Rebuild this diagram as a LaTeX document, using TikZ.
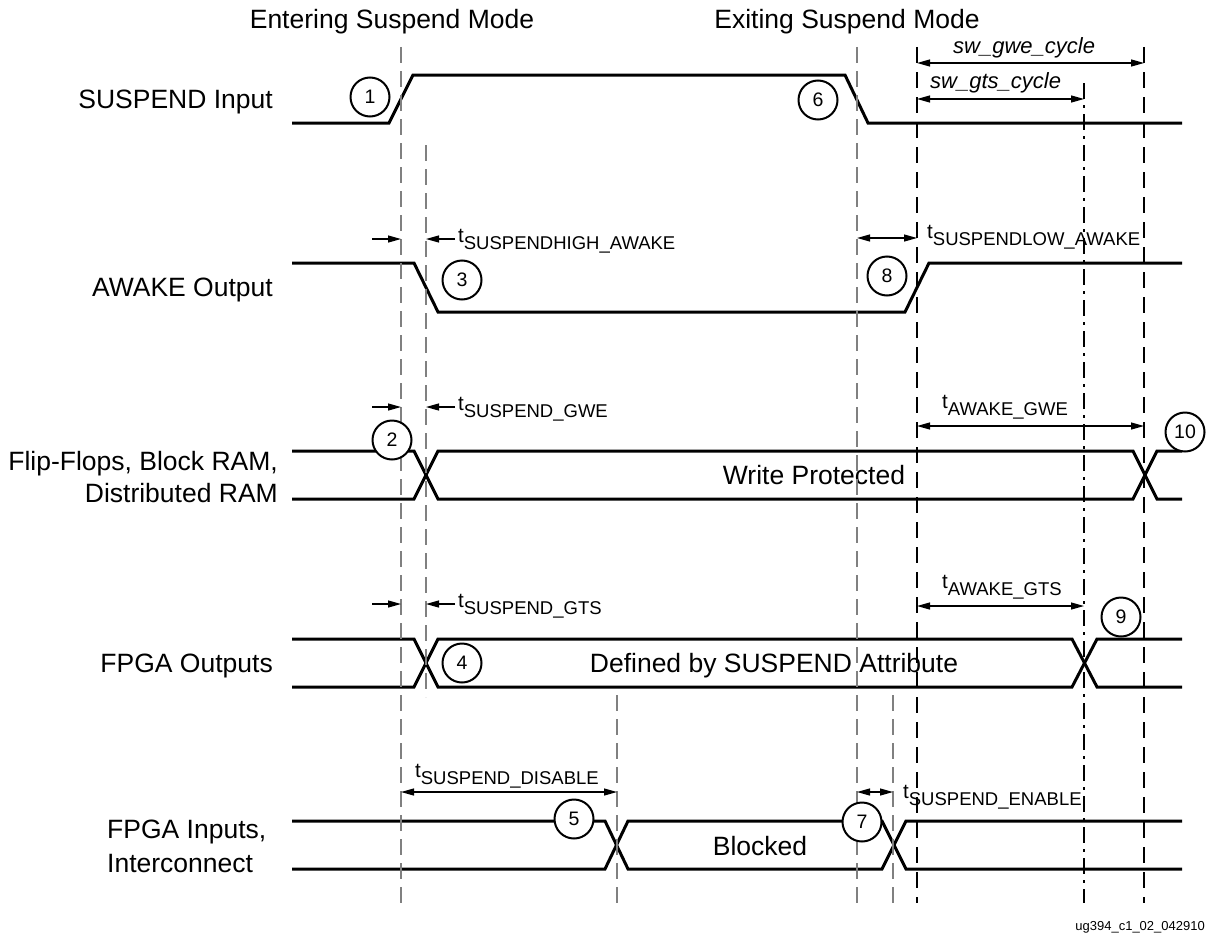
\documentclass[tikz,border=0pt]{standalone}
\usepackage{fontspec}
\setmainfont{Liberation Sans}
\usetikzlibrary{arrows.meta}
\newcommand{\tlab}[1]{{\fontsize{20.5}{20.5}\selectfont t}\raisebox{-7pt}{\fontsize{18.5}{18.5}\selectfont #1}}
\begin{document}
\begin{tikzpicture}[x=1pt,y=-1pt,
  sig/.style={line width=3pt, line join=miter},
  gdash/.style={draw=black!50, line width=2pt, dash pattern=on 16pt off 8pt},
  kdash/.style={draw=black, line width=1.1pt, dash pattern=on 16pt off 9pt},
  kdashdot/.style={draw=black, line width=1.1pt, dash pattern=on 16pt off 6pt on 3pt off 6pt},
  dim/.style={line width=1.2pt, {Triangle[length=13pt,width=7pt]}-{Triangle[length=13pt,width=7pt]}},
  tip/.style={line width=1.2pt, -{Triangle[length=13pt,width=7pt]}},
  num/.style={circle, draw, line width=2pt, fill=white, minimum size=39pt, inner sep=0pt, font=\fontsize{19.5}{19.5}\selectfont},
  big/.style={font=\fontsize{26.5}{30}\selectfont, inner sep=0pt},
  lab/.style={inner sep=0pt, anchor=base west},
  ital/.style={inner sep=0pt, anchor=base west, font=\fontsize{22}{22}\selectfont\itshape}
]
\useasboundingbox (0,0) rectangle (1206,934);

% headings
\node[big, anchor=base] (h1) at (392,29) {Entering Suspend Mode};
\node[big, anchor=base] (h2) at (847,29) {Exiting Suspend Mode};

% signal names
\node[big, anchor=base east] (nA) at (273,108) {SUSPEND Input};
\node[big, anchor=base east] (nB) at (273,296) {AWAKE Output};
\node[big, anchor=base east] (nC1) at (278,470) {Flip-Flops, Block RAM,};
\node[big, anchor=base east] (nC2) at (278,502) {Distributed RAM};
\node[big, anchor=base east] (nD) at (273,672) {FPGA Outputs};
\node[big, anchor=base west] (nE1) at (107,838) {FPGA Inputs,};
\node[big, anchor=base west] (nE2) at (107,872) {Interconnect};

% waveforms
\draw[sig] (292,123) -- (389,123) -- (413,75) -- (845,75) -- (868,123) -- (1182,123);
\draw[sig] (292,263) -- (414,263) -- (438,312) -- (905,312) -- (929,263) -- (1182,263);
\draw[sig] (292,451) -- (414,451) -- (438,499) -- (1133,499) -- (1157,451) -- (1182,451);
\draw[sig] (292,499) -- (414,499) -- (438,451) -- (1133,451) -- (1157,499) -- (1182,499);
\draw[sig] (292,639) -- (414,639) -- (438,687) -- (1072,687) -- (1097,639) -- (1182,639);
\draw[sig] (292,687) -- (414,687) -- (438,639) -- (1072,639) -- (1097,687) -- (1182,687);
\draw[sig] (292,821) -- (605,821) -- (628,869) -- (882,869) -- (906,821) -- (1182,821);
\draw[sig] (292,869) -- (605,869) -- (628,821) -- (882,821) -- (906,869) -- (1182,869);

% bus texts
\node[big, anchor=base] (wp) at (814,484) {Write Protected};
\node[big, anchor=base] (db) at (774,672) {Defined by SUSPEND Attribute};
\node[big, anchor=base] (bl) at (760,855) {Blocked};

% vertical reference lines
\coordinate (v1t) at (401,47);  \coordinate (v1b) at (401,903);
\coordinate (v2t) at (426,145); \coordinate (v2b) at (426,697);
\coordinate (v3t) at (617,695); \coordinate (v3b) at (617,903);
\coordinate (v4t) at (857,47);  \coordinate (v4b) at (857,903);
\coordinate (v5t) at (893,695); \coordinate (v5b) at (893,903);
\coordinate (v6t) at (917,47);  \coordinate (v6b) at (917,903);
\coordinate (v7t) at (1084,83); \coordinate (v7b) at (1084,903);
\coordinate (v8t) at (1144,47); \coordinate (v8b) at (1144,903);
\draw[gdash] (v1t) -- (v1b);
\draw[gdash] (v2t) -- (v2b);
\draw[gdash] (v3t) -- (v3b);
\draw[gdash] (v4t) -- (v4b);
\draw[gdash] (v5t) -- (v5b);
\draw[kdash] (v6t) -- (v6b);
\draw[kdashdot] (v7t) -- (v7b);
\draw[kdash] (v8t) -- (v8b);

% numbered circles
\node[num] (c1) at (370,97) {1};
\node[num] (c6) at (818,100) {6};
\node[num] (c3) at (462,280) {3};
\node[num] (c8) at (887,276) {8};
\node[num] (c2) at (392,440) {2};
\node[num] (c10) at (1185,432) {10};
\node[num] (c4) at (462,663) {4};
\node[num] (c9) at (1121,617) {9};
\node[num] (c5) at (574,819) {5};
\node[num] (c7) at (862,822) {7};

% dimension arrows
\coordinate (a1l) at (917,63);  \coordinate (a1r) at (1144,63);
\coordinate (a2l) at (917,99);  \coordinate (a2r) at (1084,99);
\draw[dim] (a1l) -- (a1r);
\draw[dim] (a2l) -- (a2r);
\node[ital] (swg) at (953,53) {sw\_gwe\_cycle};
\node[ital] (sws) at (930,88) {sw\_gts\_cycle};

\coordinate (b1s) at (372,239); \coordinate (b1e) at (401,239);
\coordinate (b2s) at (455,239); \coordinate (b2e) at (426,239);
\draw[tip] (b1s) -- (b1e);
\draw[tip] (b2s) -- (b2e);
\node[lab] (tb) at (458,242) {\tlab{SUSPENDHIGH\_AWAKE}};
\coordinate (b3l) at (857,238); \coordinate (b3r) at (917,238);
\draw[dim] (b3l) -- (b3r);
\node[lab] (tb2) at (927,238) {\tlab{SUSPENDLOW\_AWAKE}};

\coordinate (c1s) at (372,407); \coordinate (c1e) at (401,407);
\coordinate (c2s) at (455,407); \coordinate (c2e) at (426,407);
\draw[tip] (c1s) -- (c1e);
\draw[tip] (c2s) -- (c2e);
\node[lab] (tc) at (458,410) {\tlab{SUSPEND\_GWE}};
\coordinate (c3l) at (917,426); \coordinate (c3r) at (1144,426);
\draw[dim] (c3l) -- (c3r);
\node[lab] (tc2) at (942,408) {\tlab{AWAKE\_GWE}};

\coordinate (d1s) at (372,604); \coordinate (d1e) at (401,604);
\coordinate (d2s) at (455,604); \coordinate (d2e) at (426,604);
\draw[tip] (d1s) -- (d1e);
\draw[tip] (d2s) -- (d2e);
\node[lab] (td) at (458,607) {\tlab{SUSPEND\_GTS}};
\coordinate (d3l) at (917,606); \coordinate (d3r) at (1084,606);
\draw[dim] (d3l) -- (d3r);
\node[lab] (td2) at (942,588) {\tlab{AWAKE\_GTS}};

\coordinate (e1l) at (401,792); \coordinate (e1r) at (617,792);
\draw[dim] (e1l) -- (e1r);
\node[lab] (te) at (415,777) {\tlab{SUSPEND\_DISABLE}};
\coordinate (e2l) at (857,792); \coordinate (e2r) at (893,792);
\draw[dim] (e2l) -- (e2r);
\node[lab] (te2) at (903,798) {\tlab{SUSPEND\_ENABLE}};

% figure id
\node[inner sep=0pt, anchor=base east, font=\fontsize{13}{13}\selectfont] (fid) at (1205,930) {ug394\_c1\_02\_042910};
\end{tikzpicture}
\end{document}
